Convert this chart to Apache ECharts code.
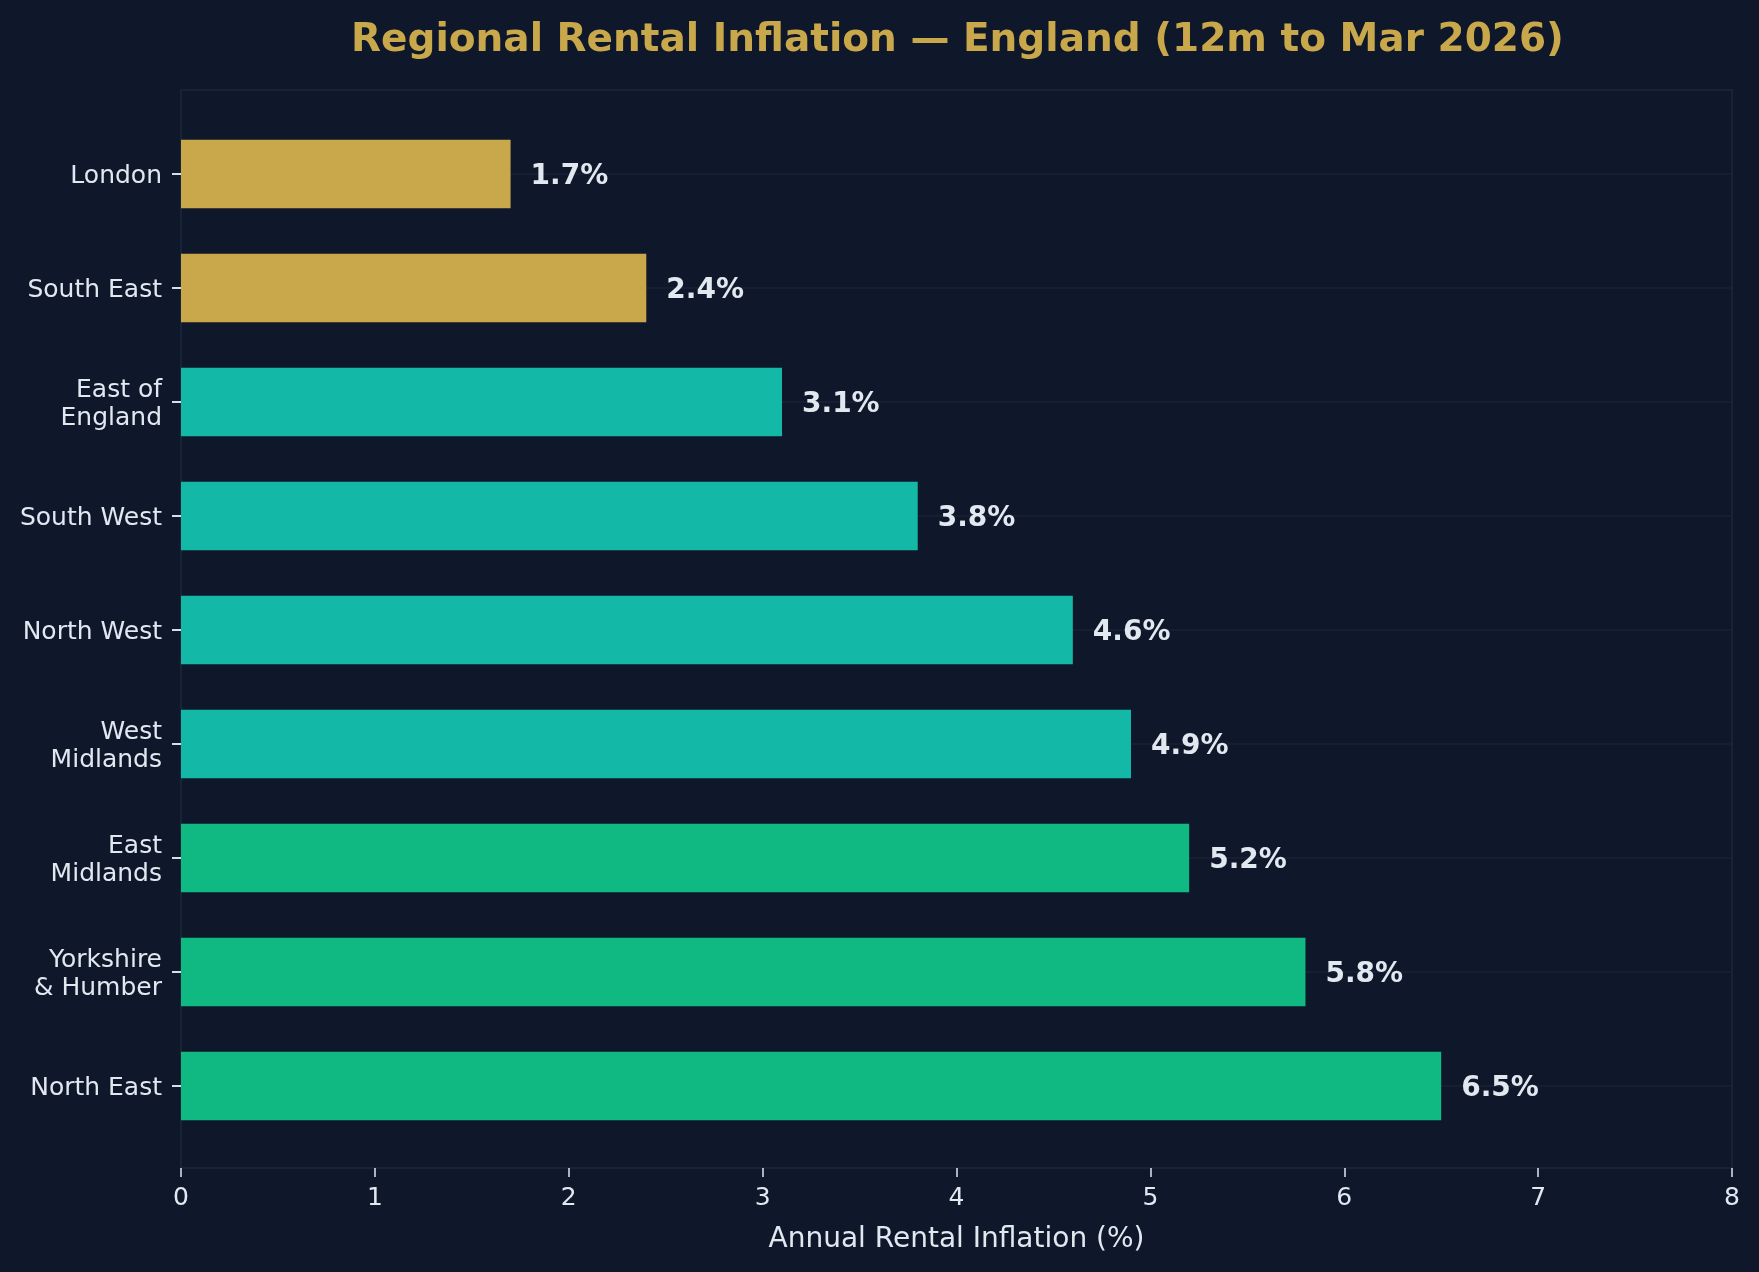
<!DOCTYPE html>
<html style="height: 100%">
  <head>
    <meta charset="utf-8" />
    <title>Regional Rental Inflation</title>
    <script src="https://cdn.jsdelivr.net/npm/echarts@6/dist/echarts.min.js"></script>
  </head>
  <body style="height: 100%; margin: 0; background: #0f172a">
    <div id="main" style="width: 1759px; height: 1272px"></div>
    <script type="text/javascript">
      // regions, top to bottom
      var regions = [
        "London",
        "South East",
        "East of\nEngland",
        "South West",
        "North West",
        "West\nMidlands",
        "East\nMidlands",
        "Yorkshire\n& Humber",
        "North East",
      ];
      var inflation = [1.7, 2.4, 3.1, 3.8, 4.6, 4.9, 5.2, 5.8, 6.5];
      var barColors = [
        "#c8a84b", "#c8a84b",
        "#14b8a6", "#14b8a6", "#14b8a6", "#14b8a6",
        "#10b981", "#10b981", "#10b981",
      ];
      var xTicks = [0, 1, 2, 3, 4, 5, 6, 7, 8];

      var textColor = "#e2e8f0";
      var frameColor = "#1e293b";
      var font = "DejaVu Sans";

      var myChart = echarts.init(document.getElementById("main"));

      var barData = [];
      for (var i = 0; i < inflation.length; i++) {
        barData.push({ value: inflation[i], itemStyle: { color: barColors[i] } });
      }
      var gridLines = regions.map(function (r) {
        return { yAxis: r };
      });

      var option = {
        backgroundColor: "#0f172a",
        animation: false,
        title: {
          text: "Regional Rental Inflation — England (12m to Mar 2026)",
          left: 346,
          top: 16,
          textStyle: {
            color: "#c8a84b",
            fontFamily: font,
            fontWeight: "bold",
            fontSize: 39,
          },
        },
        grid: [
          // bars
          { left: 181, right: 27, top: 117, bottom: 129 },
          // frame + x axis
          {
            left: 181,
            right: 27,
            top: 90,
            bottom: 104,
            show: true,
            borderColor: frameColor,
            borderWidth: 1.5,
            backgroundColor: "transparent",
          },
        ],
        xAxis: [
          { type: "value", gridIndex: 0, min: 0, max: 8, show: false },
          {
            type: "value",
            gridIndex: 1,
            min: xTicks[0],
            max: xTicks[xTicks.length - 1],
            interval: 1,
            axisLine: { show: false },
            axisTick: { show: true, length: 9, lineStyle: { color: textColor, width: 1.5 } },
            splitLine: { show: false },
            axisLabel: { color: textColor, fontFamily: font, fontSize: 25, margin: 18 },
            name: "Annual Rental Inflation (%)",
            nameLocation: "middle",
            nameGap: 58,
            nameTextStyle: { color: textColor, fontFamily: font, fontSize: 28 },
          },
        ],
        yAxis: [
          {
            type: "category",
            gridIndex: 0,
            data: regions,
            inverse: true,
            axisLine: { show: false },
            axisTick: {
              show: true,
              alignWithLabel: true,
              length: 9,
              lineStyle: { color: "#f1f5f9", width: 1.8 },
            },
            axisLabel: {
              color: textColor,
              fontFamily: font,
              fontSize: 25,
              lineHeight: 28,
              margin: 19,
              formatter: function (v) {
                return "{t|" + v + "}";
              },
              rich: {
                t: {
                  color: textColor,
                  fontFamily: font,
                  fontSize: 25,
                  lineHeight: 28,
                  padding: [5, 0, 0, 0],
                },
              },
            },
            splitLine: { show: false },
          },
          { type: "value", gridIndex: 1, show: false },
        ],
        series: [
          {
            // faint horizontal gridlines at each region
            type: "line",
            xAxisIndex: 0,
            yAxisIndex: 0,
            data: [],
            z: 1,
            silent: true,
            markLine: {
              z: 1,
              silent: true,
              symbol: "none",
              label: { show: false },
              lineStyle: { color: "#1a2336", width: 1.5, type: "solid" },
              data: gridLines,
            },
          },
          {
            type: "bar",
            xAxisIndex: 0,
            yAxisIndex: 0,
            data: barData,
            barCategoryGap: "40%",
            z: 3,
            label: {
              show: true,
              position: "right",
              distance: 20,
              offset: [0, 2.5],
              color: textColor,
              textBorderWidth: 0,
              fontFamily: font,
              fontWeight: "bold",
              fontSize: 28,
              formatter: function (p) {
                return p.value.toFixed(1) + "%";
              },
            },
          },
        ],
      };

      myChart.setOption(option);
    </script>
  </body>
</html>
